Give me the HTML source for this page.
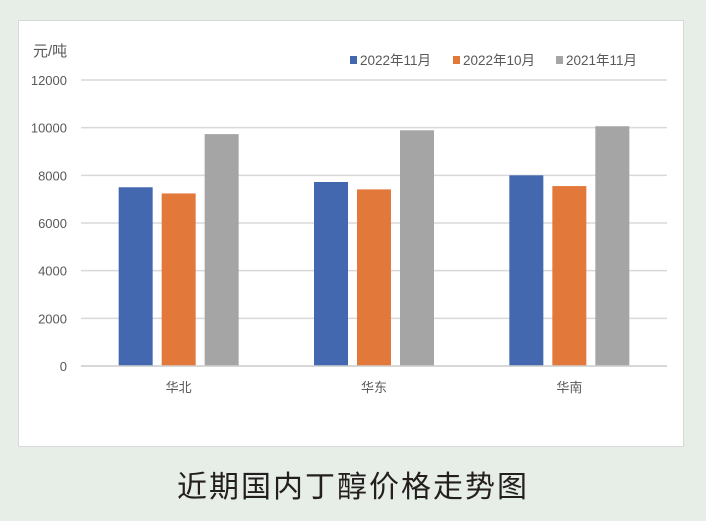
<!DOCTYPE html>
<html><head><meta charset="utf-8"><style>
body{margin:0;width:706px;height:521px;background:#e7ede7;overflow:hidden;font-family:"Liberation Sans","Noto Sans CJK SC",sans-serif;}
#panel{position:absolute;left:18px;top:20px;width:666px;height:427px;background:#fff;border:1px solid #d8d8d8;box-sizing:border-box;}
#title{position:absolute;left:0;width:706px;top:462px;text-align:center;font-size:30px;color:#231f1f;letter-spacing:2px;font-family:"Noto Sans CJK SC",sans-serif;}
</style></head><body>
<div id="panel"></div>
<svg id="chart" width="706" height="521" style="position:absolute;left:0;top:0"></svg>
<div id="title">近期国内丁醇价格走势图</div>
<script>
const categories=["华北","华东","华南"];
const s2022Nov=[7500,7720,8000];
const s2022Oct=[7240,7410,7550];
const s2021Nov=[9730,9890,10060];
const ticks=[0,2000,4000,6000,8000,10000,12000];
const seriesNames=["2022年11月","2022年10月","2021年11月"];
const colors=["#4468b0","#e2783a","#a5a5a5"];
const NS="http://www.w3.org/2000/svg";
const svg=document.getElementById('chart');
const x0=81,x1=667,y0=366,y1=80,yMax=12000;
const y=v=>y0-(v/yMax)*(y0-y1);
const bw=(x1-x0)/categories.length;
function mk(t,a){const e=document.createElementNS(NS,t);for(const k in a)e.setAttribute(k,a[k]);svg.appendChild(e);return e;}
ticks.forEach(t=>{
 const l=mk('line',{x1:x0,x2:x1,y1:y(t),y2:y(t),stroke:'#d9d9d9','stroke-width':1.5});
 
 
 const tx=mk('text',{x:67,y:y(t)+5,'text-anchor':'end','font-size':13,fill:'#595959'});
 tx.textContent=t;
 
 
});
const series=[s2022Nov,s2022Oct,s2021Nov];
const barW=34,step=43;
categories.forEach((c,i)=>{
 const cx=x0+bw*(i+0.5);
 series.forEach((s,j)=>{
  const bx=cx-barW/2+(j-1)*step;
  const r=mk('rect',{x:bx,y:y(s[i]),width:barW,height:y0-y(s[i]),fill:colors[j]});
  
  
 });
 const t=mk('text',{x:cx,y:392,'text-anchor':'middle','font-size':13,fill:'#595959'});
 t.textContent=c;
 
 
});
const ax=mk('line',{x1:x0,x2:x1,y1:y0,y2:y0,stroke:'#d0d0d0','stroke-width':1.5});


const yt=mk('text',{x:33,y:56,'font-size':15,fill:'#595959'});
yt.textContent='元/吨';


const lx=[350,453,556];
seriesNames.forEach((n,j)=>{
 const r=mk('rect',{x:lx[j],y:56,width:7,height:8,fill:colors[j]});
 
 
 const t=mk('text',{x:lx[j]+10,y:65,'font-size':13.5,fill:'#595959'});
 t.textContent=n;
 
 
});
</script>
</body></html>
